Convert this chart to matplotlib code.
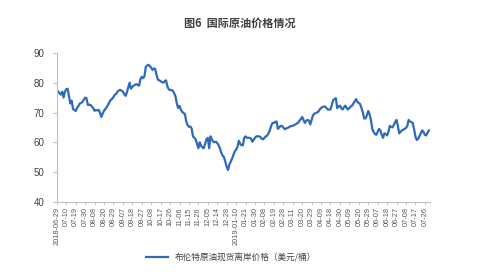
import matplotlib
matplotlib.use("Agg")
import matplotlib.pyplot as plt

plt.rcParams['font.family'] = ['Liberation Sans', 'Noto Sans CJK SC', 'DejaVu Sans']

# Brent spot price, one value per trading day
brent = [
    77.6, 77.0, 76.5, 76.0, 77.0, 75.0, 77.0,
    77.8, 78.0, 75.5, 73.0, 74.0, 71.2, 70.8,
    70.5, 71.5, 72.2, 73.0, 73.2, 73.5, 74.3,
    75.0, 74.8, 72.5, 72.6, 72.5, 72.0, 71.5,
    70.6, 70.8, 70.7, 70.9, 70.0, 68.5, 69.6,
    70.6, 71.2, 71.8, 72.6, 73.5, 74.2, 74.6,
    75.2, 76.0, 76.2, 77.0, 77.4, 77.6, 77.3,
    77.0, 76.2, 75.6, 76.8, 78.5, 80.0, 78.0,
    78.6, 79.0, 79.3, 79.5, 79.3, 79.0, 81.2,
    82.0, 81.5, 82.2, 85.3, 85.8, 86.0, 85.6,
    85.0, 84.3, 84.8, 84.6, 82.5, 81.0, 80.8,
    80.5, 80.2, 80.0, 80.5, 80.8, 78.8, 77.8,
    77.5, 77.6, 77.3, 76.5, 75.5, 73.0, 71.5,
    72.2, 71.0, 70.2, 69.8, 69.5, 67.0, 65.8,
    65.2, 65.3, 64.6, 62.0, 61.5, 61.0, 59.5,
    58.0, 60.0, 58.8, 58.3, 58.0, 59.5, 61.0,
    61.5, 58.0, 62.0, 61.0, 60.2, 60.0, 60.2,
    59.8, 59.0, 58.0, 56.5, 55.5, 55.0, 53.5,
    51.8, 50.7, 52.5, 53.5, 54.5, 55.8, 57.0,
    57.5, 58.5, 60.5, 59.5, 59.0, 59.0, 61.5,
    62.0, 61.5, 61.5, 61.5, 61.3, 60.2, 60.8,
    61.5, 62.0, 62.0, 62.0, 61.8, 61.2, 61.0,
    61.5, 62.0, 62.2, 63.0, 64.0, 65.5, 66.5,
    66.5, 66.8, 67.0, 64.5, 65.0, 65.5, 65.5,
    65.0, 64.4, 64.6, 64.8, 65.0, 65.3, 65.5,
    65.5, 65.8, 66.0, 66.3, 66.6, 67.2, 67.8,
    68.5, 67.5, 66.5, 67.2, 67.5, 67.3, 66.0,
    67.5, 69.0, 69.6, 69.8, 70.0, 70.3, 71.0,
    71.5, 71.8, 72.0, 72.0, 71.5, 71.0, 71.0,
    71.0, 72.5, 74.2, 74.5, 74.8, 71.5, 72.0,
    72.3, 71.5, 71.0, 71.8, 72.3, 71.5, 71.0,
    71.5, 72.0, 72.3, 73.0, 73.8, 74.5, 73.5,
    73.2, 72.8, 71.5, 70.0, 68.0, 68.0, 69.0,
    70.5, 69.5, 67.5, 64.5, 63.5, 62.8, 62.5,
    63.5, 64.5, 64.0, 62.5, 61.5, 63.0, 62.8,
    62.3, 63.5, 65.5, 65.2, 65.0, 65.8, 66.8,
    67.5, 65.5, 63.0, 63.5, 64.0, 64.2, 64.5,
    64.8, 65.5, 67.5, 67.0, 66.8, 66.5, 64.5,
    62.0, 60.8, 61.2, 62.0, 63.0, 64.0, 63.5,
    62.5, 62.3, 63.2, 64.0,
]

date_labels = [
    "2018-06-29", "07-10", "07-19", "07-30", "08-08", "08-20", "08-29",
    "09-07", "09-18", "09-27", "10-08", "10-17", "10-26", "11-06",
    "11-15", "11-26", "12-05", "12-14", "12-28", "2019-01-10", "01-21",
    "01-30", "02-08", "02-19", "02-28", "03-11", "03-20", "03-29",
    "04-09", "04-18", "04-30", "05-09", "05-20", "05-29", "06-07",
    "06-18", "06-27", "07-08", "07-17", "07-26",
]
label_step = 7

fig = plt.figure(figsize=(4.9, 2.8), dpi=100)
ax = fig.add_axes([0.116, 0.279, 0.762, 0.532])

ax.plot(range(len(brent)), brent, color='#2F6AB8', lw=1.6,
        label='布伦特原油现货离岸价格（美元/桶）')

ax.set_ylim(40, 90)
ax.set_yticks(range(40, 91, 10))
ax.set_xlim(0, len(brent))
ax.set_xticks(range(0, label_step * len(date_labels), label_step))
ax.set_xticklabels(date_labels, rotation=90)

for s in ['top', 'right']:
    ax.spines[s].set_visible(False)
for s in ['left', 'bottom']:
    ax.spines[s].set_color('#BFBFBF')
    ax.spines[s].set_linewidth(0.8)

ax.tick_params(axis='y', colors='#BFBFBF', labelcolor='#404040',
               labelsize=7, length=3, width=0.8, pad=6)
ax.tick_params(axis='x', colors='#BFBFBF', labelcolor='#595959',
               labelsize=5.3, length=2, width=0.6, pad=2)

fig.text(0.49, 0.918, '图6  国际原油价格情况', ha='center', va='center',
         fontsize=8, fontweight='bold', color='#404040',
         family=['Noto Sans CJK SC', 'DejaVu Sans'])

leg = fig.legend(loc='center', bbox_to_anchor=(0.472, 0.079), frameon=False,
                 handlelength=2.6, fontsize=6.2,
                 prop={'family': ['Noto Sans CJK SC', 'DejaVu Sans'], 'size': 6.2})
for t in leg.get_texts():
    t.set_color('#404040')

fig.savefig('out.png', dpi=100, facecolor='white')
